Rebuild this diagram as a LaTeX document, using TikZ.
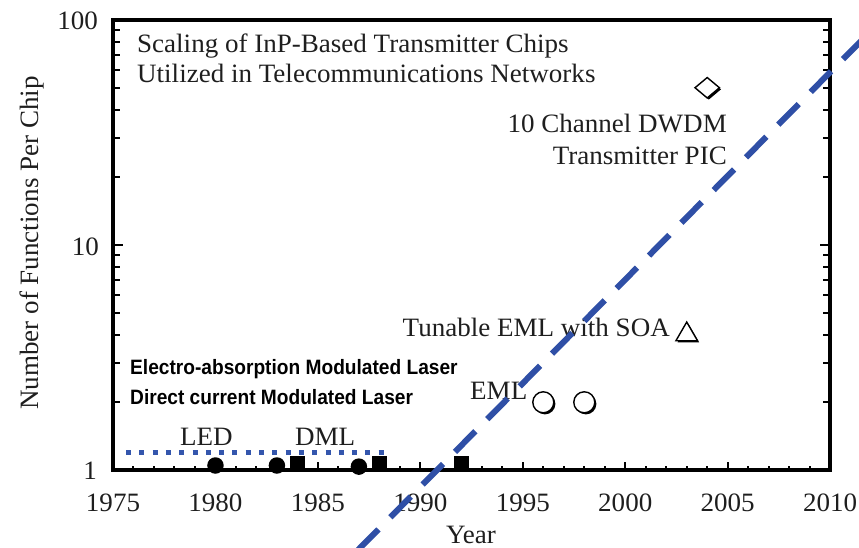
\documentclass[tikz,border=0pt]{standalone}
\usepackage{fontspec}
\setmainfont{Liberation Serif}[FakeStretch=1.02]
\newfontfamily\legendsans{Liberation Sans}[FakeStretch=0.92]
\usepackage{xcolor}
\usepackage{tikz}
\usetikzlibrary{positioning,shapes.geometric,shadows}
\definecolor{trendc}{HTML}{2F4FA6}
\definecolor{dotc}{HTML}{3456AD}
\definecolor{inkc}{HTML}{1E1E1E}
\tikzset{
  axisframe/.style={line width=3.5pt},
  tickline/.style={line width=2pt},
  plotlabel/.style={font=\fontsize{26.5}{30}\selectfont, text=inkc, inner sep=0pt},
  legendlabel/.style={font=\legendsans\bfseries\fontsize{20.8}{24}\selectfont, inner sep=0pt, anchor=base west},
  ledmark/.style={circle, fill=black, minimum size=16.5pt, inner sep=0pt},
  dmlmark/.style={rectangle, fill=black, minimum size=15.5pt, inner sep=0pt},
  shademark/.style={draw=black, line width=1.4pt, fill=white, inner sep=0pt,
    drop shadow={shadow xshift=1.6pt, shadow yshift=-1.6pt, fill=black, opacity=1}},
  emlmark/.style={shademark, circle, minimum size=21pt},
  soamark/.style={shademark, regular polygon, regular polygon sides=3, minimum size=25pt},
  picmark/.style={shademark, diamond, minimum width=25pt, minimum height=21pt},
  dotline/.style={dotc, line width=5pt, dash pattern=on 5pt off 8.3pt},
  trendline/.style={trendc, line width=6pt, dash pattern=on 29pt off 17pt},
}
\newcommand{\xtick}[2]{%
  \draw[tickline] (#1,0) -- ++(0,#2);
}
\newcommand{\ytick}[2]{%
  \draw[tickline] (0,{#1}) -- ++(#2,0);
  \draw[tickline] (35,{#1}) -- ++(-#2,0);
}

\begin{document}
\begin{tikzpicture}[x=1pt,y=-1pt]
  \useasboundingbox (0,0) rectangle (859,548);
  % plot area: years from 1975, log10 of the count upwards
  \begin{scope}[shift={(113,470)}, x=20.49pt, y=225pt]
    \foreach \i in {1,...,34} {\xtick{\i}{4pt}}
    \foreach \i in {5,10,...,30} {\xtick{\i}{8pt}}
    \foreach \d in {0,1}
      \foreach \k in {2,...,9} {\ytick{\d+log10(\k)}{7pt}}
    \ytick{1}{10pt}
    \draw[axisframe] (0,0) rectangle (35,2);

    % data
    \node[ledmark] (led1) at (5,0.02) {};
    \node[ledmark] (led2) at (8,0.02) {};
    \node[ledmark] (led3) at (12,0.015) {};
    \node[dmlmark] (dml1) at (9,0.03) {};
    \node[dmlmark] (dml2) at (13,0.03) {};
    \node[dmlmark] (dml3) at (17,0.03) {};
    \node[emlmark] (eml1) at (21,{log10(2)}) {};
    \node[emlmark] (eml2) at (23,{log10(2)}) {};
    \node[soamark] (soa) at (28,{log10(4)}) {};
    \node[picmark] (pic) at (29,{log10(50)}) {};
  \end{scope}

  % axes labels
  \foreach \yr in {1975,1980,...,2010}
    \node[plotlabel, anchor=base] (x\yr) at ({113+(\yr-1975)*20.49},511) {\yr};
  \node[plotlabel, anchor=base east] (y100) at (98,30) {100};
  \node[plotlabel, anchor=base east] (y10) at (99,255) {10};
  \node[plotlabel, anchor=base east] (y1) at (97,479) {1};
  \node[plotlabel, anchor=base] (xlab) at (471,543) {Year};
  \node[plotlabel, rotate=90, anchor=base] (ylab) at (38,243) {Number of Functions Per Chip};

  % annotations
  \node[plotlabel, anchor=base west] (title1) at (137,53) {Scaling of InP-Based Transmitter Chips};
  \node[plotlabel, anchor=base west] (title2) at (137,83) {Utilized in Telecommunications Networks};
  \node[plotlabel, anchor=base east] (pic1) at (727,133) {10 Channel DWDM};
  \node[plotlabel, anchor=base east] (pic2) at (727,165) {Transmitter PIC};
  \node[plotlabel, anchor=base east] (soalab) at (670,336) {Tunable EML with SOA};
  \node[plotlabel, anchor=base west] (emllab) at (470,399) {EML};
  \node[plotlabel, anchor=base west] (ledlab) at (180,445) {LED};
  \node[plotlabel, anchor=base west] (dmllab) at (295,445) {DML};
  \node[legendlabel] (eamlab) at (130,374) {Electro-absorption Modulated Laser};
  \node[legendlabel] (dcmlab) at (130,404) {Direct current Modulated Laser};

  % blue overlays
  \coordinate (dotA) at (126,452);
  \coordinate (dotB) at (384,452);
  \draw[dotline] (dotA) -- (dotB);
  \coordinate (trendA) at (358,550);
  \coordinate (trendB) at (861,41);
  \draw[trendline] (trendA) -- (trendB);
\end{tikzpicture}
\end{document}
